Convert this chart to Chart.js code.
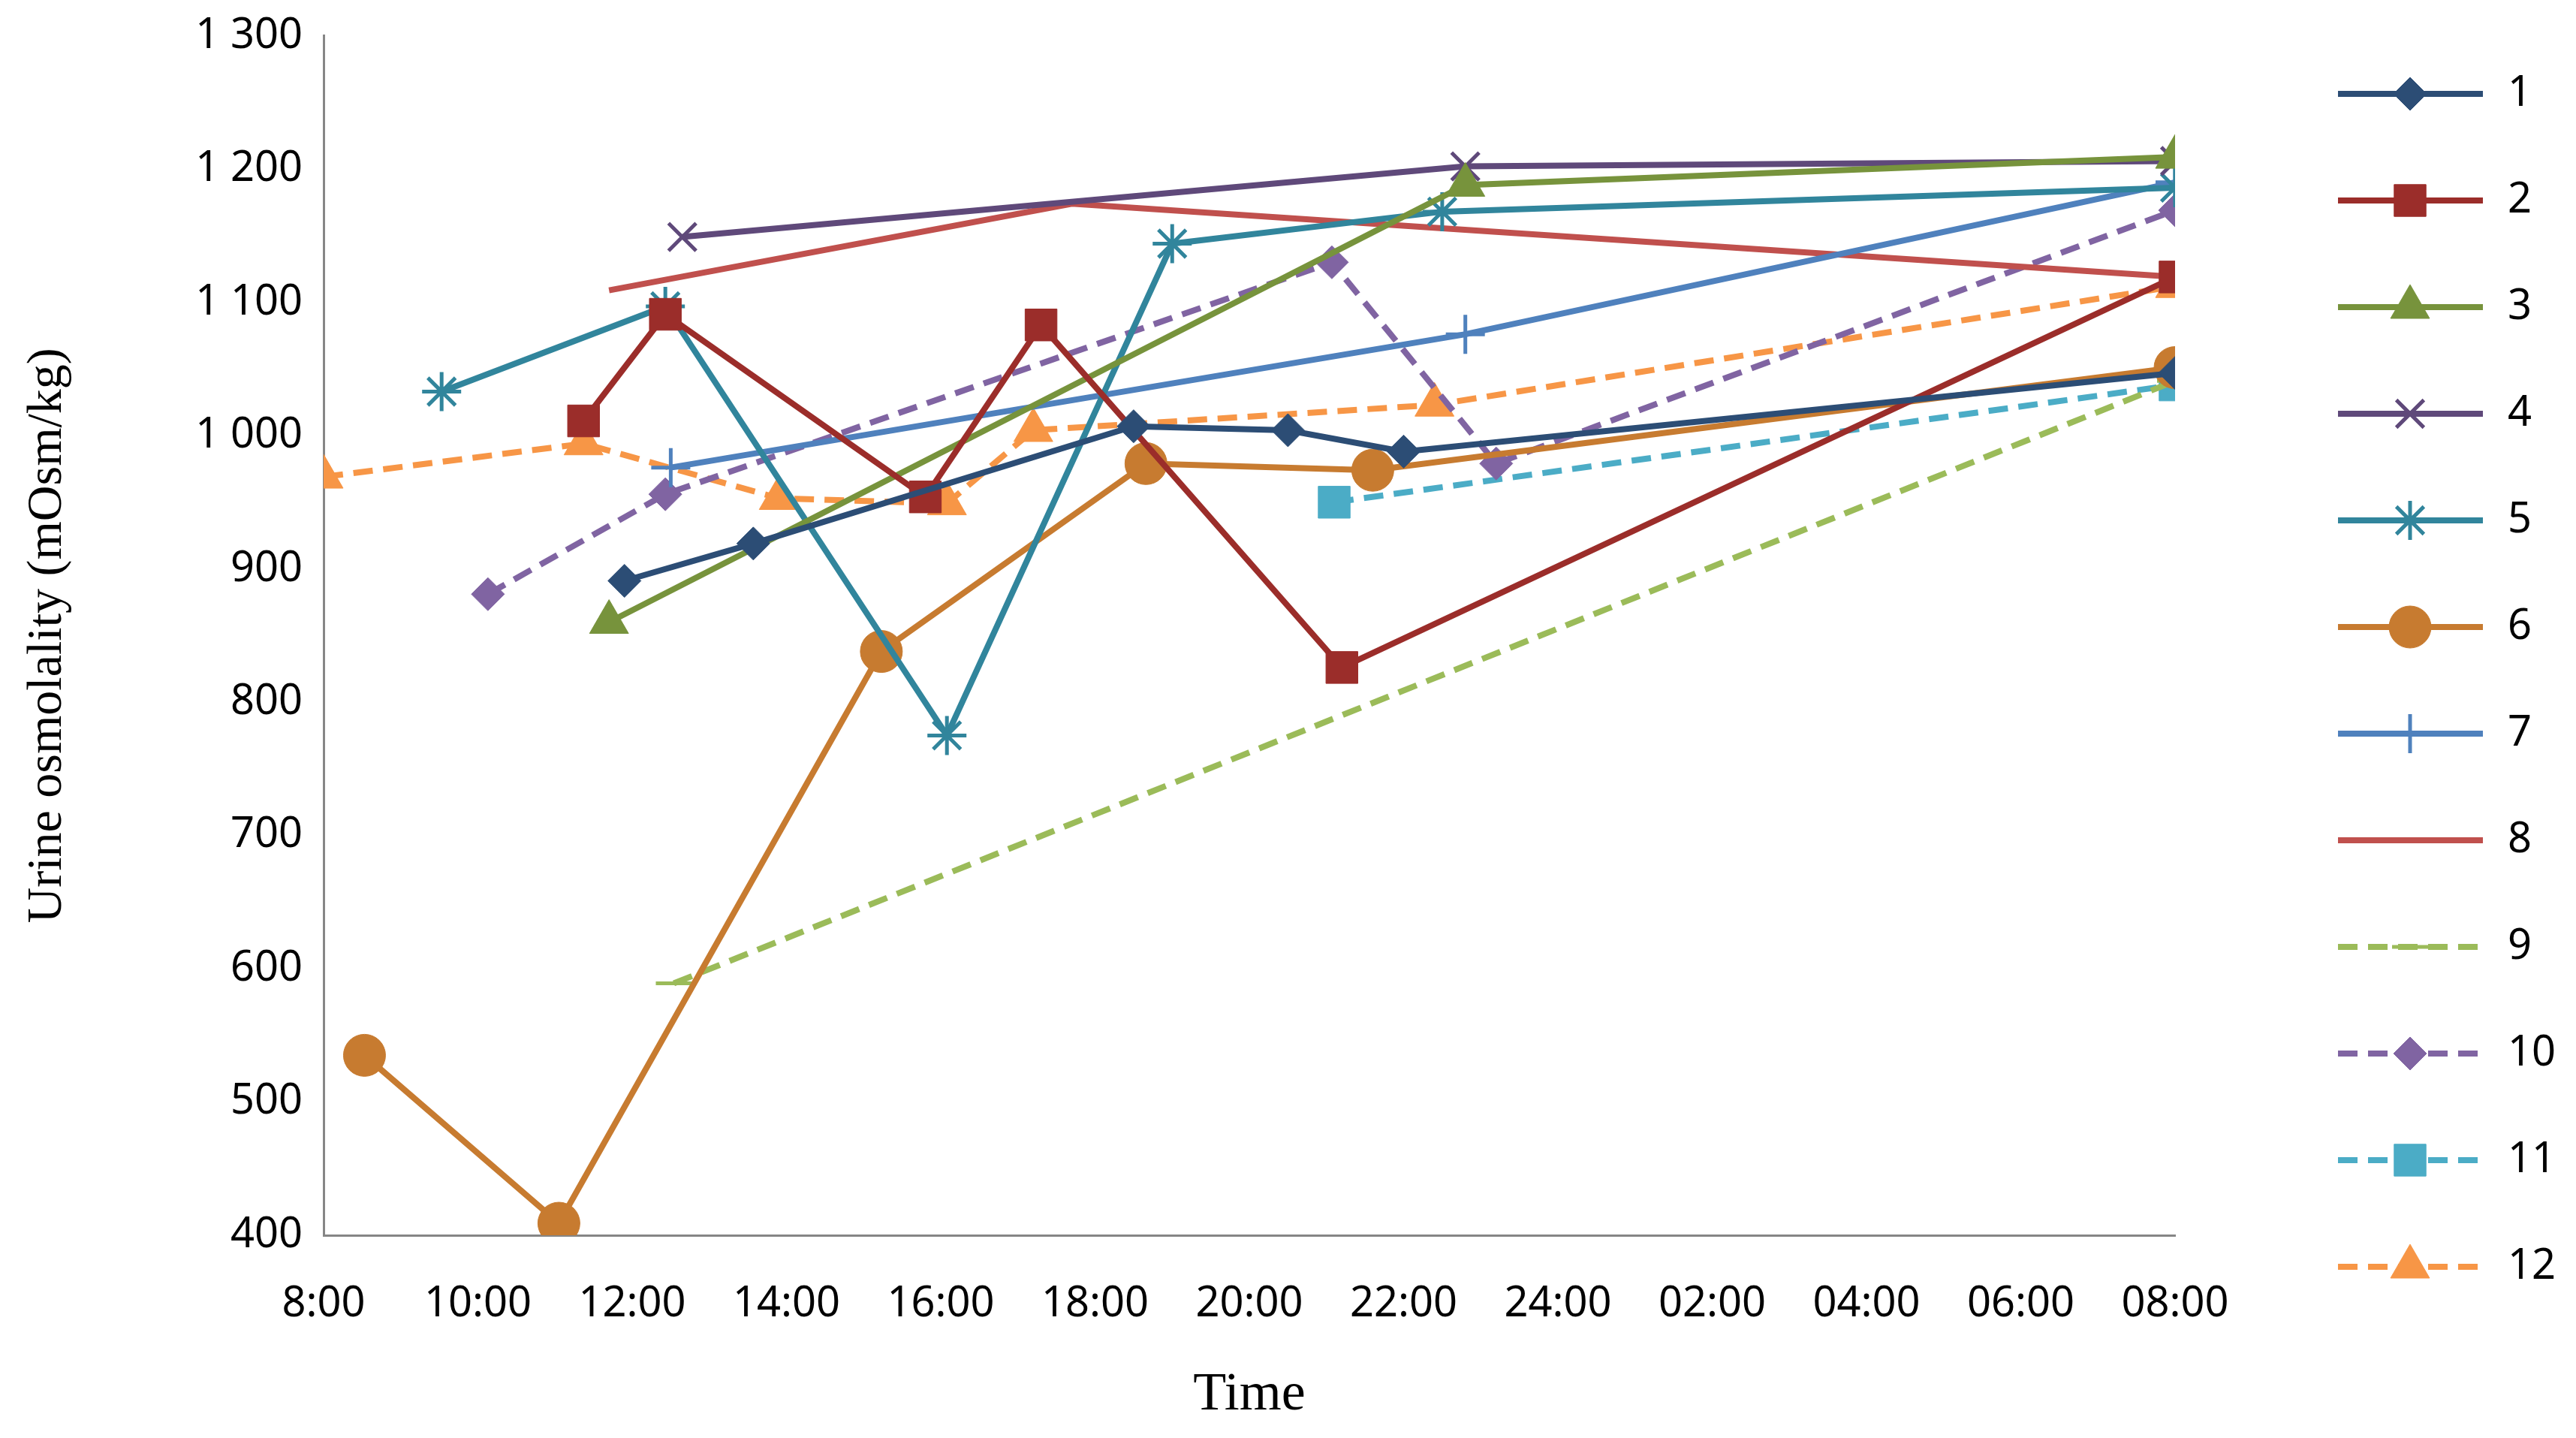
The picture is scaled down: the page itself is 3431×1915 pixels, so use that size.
<!DOCTYPE html>
<html>
<head>
<meta charset="utf-8">
<script src="https://cdn.jsdelivr.net/npm/chart.js@4/dist/chart.umd.min.js"></script>
<style>
  html, body { margin: 0; padding: 0; background: #fff; }
  #wrap { width: 3431px; height: 1915px; }
</style>
</head>
<body>
<div id="wrap"><canvas id="chart"></canvas></div>
<script>
// hours since 8:00
const timeTickLabels = ['8:00', '10:00', '12:00', '14:00', '16:00', '18:00', '20:00', '22:00', '24:00', '02:00', '04:00', '06:00', '08:00'];

const s1 = [[3.9, 891], [5.57, 919], [10.5, 1007], [12.5, 1004], [14, 988], [24, 1047]];
const s2 = [[3.37, 1011], [4.43, 1091], [7.8, 954], [9.3, 1083], [13.2, 826], [24, 1119]];
const s3 = [[3.7, 860], [14.8, 1188], [24, 1209]];
const s4 = [[4.65, 1149], [14.8, 1202], [24, 1206]];
const s5 = [[1.53, 1033], [4.43, 1097], [8.08, 775], [11, 1144], [14.5, 1168], [24, 1186]];
const s6 = [[0.53, 535], [3.05, 409], [7.23, 838], [10.66, 979], [13.6, 974], [24, 1051]];
const s7 = [[4.5, 976], [14.8, 1076], [24, 1190]];
const s8 = [[3.7, 1109], [9.7, 1174], [24, 1119]];
const s9 = [[4.54, 589], [24, 1041]];
const s10 = [[2.13, 881], [4.43, 956], [13.07, 1130], [15.2, 979], [24, 1169]];
const s11 = [[13.1, 950], [24, 1038]];
const s12 = [[0, 969], [3.37, 994], [5.9, 953], [8.08, 949], [9.2, 1004], [14.4, 1023], [24, 1112]];

const seriesNames = ['1', '2', '3', '4', '5', '6', '7', '8', '9', '10', '11', '12'];
const seriesData = [s1, s2, s3, s4, s5, s6, s7, s8, s9, s10, s11, s12];
const colors = ['#2C4D75', '#9B2D2A', '#77933C', '#5F497A', '#31859C', '#C77B30',
                '#4F81BD', '#C0504D', '#9BBB59', '#8064A2', '#4BACC6', '#F79646'];
const markers = ['rectRot', 'rect', 'triangle', 'crossRot', 'star', 'circle',
                 'cross', false, 'line', 'rectRot', 'rect', 'triangle'];
const dashed = [false, false, false, false, false, false, false, false, true, true, true, true];
const radii = [22, 30, 30, 26, 26, 28, 26, 0, 24, 22, 30, 30];

const datasets = seriesData.map((d, i) => ({
  label: seriesNames[i],
  data: d.map(p => ({ x: p[0], y: p[1] })),
  borderColor: colors[i],
  backgroundColor: colors[i],
  borderWidth: 8,
  borderDash: dashed[i] ? [26, 14] : [],
  pointStyle: markers[i],
  pointRadius: markers[i] ? radii[i] : 0,
  pointBorderWidth: ['crossRot', 'star', 'cross', 'line'].includes(markers[i]) ? 5 : 1,
  pointBorderColor: colors[i],
  pointBackgroundColor: colors[i],
  tension: 0,
  fill: false
}));

const sideLegend = {
  id: 'sideLegend',
  afterDraw(chart) {
    const ctx = chart.ctx;
    ctx.save();
    chart.data.datasets.forEach((ds, i) => {
      const y = 125 + i * 142;
      ctx.strokeStyle = ds.borderColor;
      ctx.lineWidth = 8;
      ctx.setLineDash(ds.borderDash);
      ctx.beginPath();
      ctx.moveTo(3114, y);
      ctx.lineTo(3307, y);
      ctx.stroke();
      ctx.setLineDash([]);
      if (ds.pointStyle) {
        ctx.fillStyle = ds.backgroundColor;
        ctx.strokeStyle = ds.borderColor;
        ctx.lineWidth = ds.pointBorderWidth;
        Chart.helpers.drawPoint(ctx, {
          pointStyle: ds.pointStyle, radius: ds.pointRadius, rotation: 0,
          borderWidth: ds.pointBorderWidth
        }, 3210, y);
      }
      ctx.fillStyle = '#000';
      ctx.font = "56px 'Noto Sans'";
      ctx.textBaseline = 'middle';
      ctx.fillText(ds.label, 3340, y);
    });
    ctx.restore();
  }
};

new Chart(document.getElementById('chart'), {
  type: 'line',
  data: { datasets },
  plugins: [sideLegend],
  options: {
    responsive: true,
    maintainAspectRatio: false,
    animation: false,
    layout: { padding: { top: 40, left: 20, right: 534, bottom: 10 } },
    plugins: { legend: { display: false }, tooltip: { enabled: false } },
    scales: {
      x: {
        type: 'linear',
        min: 0, max: 24,
        afterBuildTicks: s => { s.ticks = timeTickLabels.map((_, i) => ({ value: i * 2 })); },
        afterFit: s => { s.height = 260; },
        grid: { display: false, drawTicks: true, tickLength: 14, color: '#868686' },
        border: { display: true, color: '#868686', width: 3 },
        ticks: {
          color: '#000', font: { family: "'Noto Sans'", size: 56 }, padding: 44,
          maxRotation: 0, autoSkip: false,
          callback: v => timeTickLabels[v / 2]
        },
        title: { display: true, text: 'Time', color: '#000',
          font: { family: "'Liberation Serif'", size: 72 }, padding: { top: 10 } }
      },
      y: {
        min: 400, max: 1300,
        afterFit: s => { s.width = 411; },
        grid: { display: false, tickLength: 14, color: '#868686' },
        border: { display: true, color: '#868686', width: 3 },
        ticks: {
          stepSize: 100, color: '#000', font: { family: "'Noto Sans'", size: 56 }, padding: 14,
          callback: v => v >= 1000 ? Math.floor(v / 1000) + ' ' + String(v % 1000).padStart(3, '0') : String(v)
        },
        title: { display: true, text: 'Urine osmolality (mOsm/kg)', color: '#000',
          font: { family: "'Liberation Serif'", size: 66 }, padding: { bottom: 20 } }
      }
    }
  }
});
</script>
</body>
</html>
